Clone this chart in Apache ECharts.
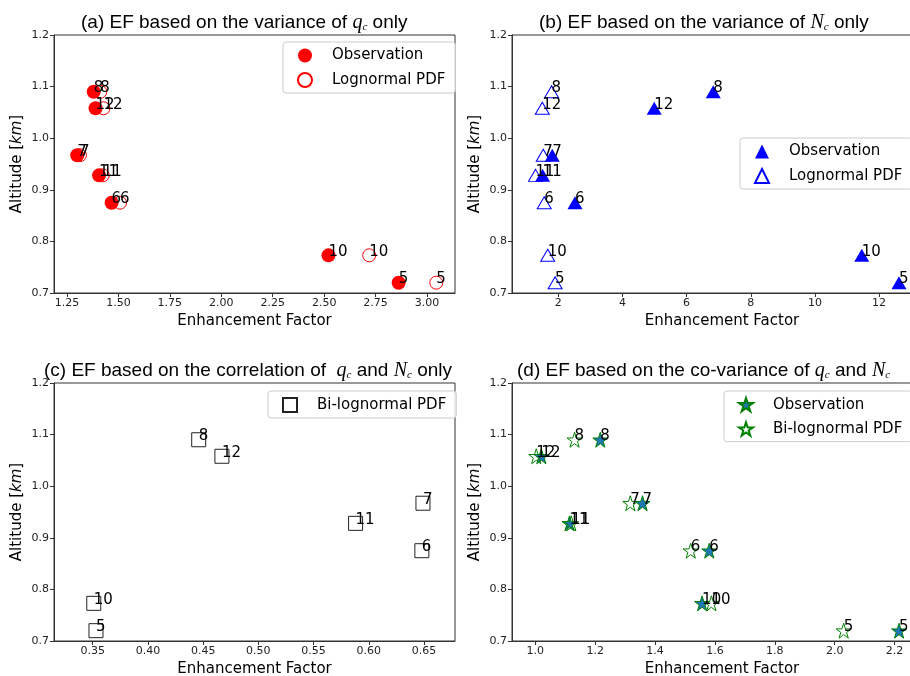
<!DOCTYPE html>
<html>
<head>
<meta charset="utf-8">
<script src="https://cdn.jsdelivr.net/npm/echarts@6/dist/echarts.min.js"></script>
<style>
html, body { margin: 0; padding: 0; background: #fff; }
#charts { width: 910px; height: 676px; }
</style>
</head>
<body>
<div id="charts"></div>
<script>
// level labels and altitude (km) of each level
var levelLabels = ['5', '6', '7', '8', '10', '11', '12'];
var altitude = [0.72, 0.875, 0.967, 1.09, 0.773, 0.928, 1.058];

// (a) variance of qc only
var efQcObs  = [2.862, 1.467, 1.300, 1.380, 2.521, 1.406, 1.389];
var efQcLogn = [3.045, 1.508, 1.313, 1.412, 2.719, 1.424, 1.427];
// (b) variance of Nc only
var efNcObs  = [12.62, 2.52, 1.81, 6.83, 11.46, 1.51, 4.99];
var efNcLogn = [1.90, 1.56, 1.53, 1.79, 1.67, 1.29, 1.50];
// (c) correlation of qc and Nc only
var efCorrBi = [0.353, 0.648, 0.649, 0.446, 0.351, 0.588, 0.467];
// (d) co-variance of qc and Nc
var efCovObs = [2.215, 1.581, 1.358, 1.217, 1.557, 1.114, 1.020];
var efCovBi  = [2.030, 1.519, 1.317, 1.131, 1.588, 1.120, 1.003];

// tick labels
var xTicksA = [1.25, 1.5, 1.75, 2.0, 2.25, 2.5, 2.75, 3.0];
var xTicksB = [2, 4, 6, 8, 10, 12];
var xTicksC = [0.35, 0.4, 0.45, 0.5, 0.55, 0.6, 0.65];
var xTicksD = [1.0, 1.2, 1.4, 1.6, 1.8, 2.0, 2.2];

var STAR = 'path://M0,-1L0.2245,-0.309L0.951,-0.309L0.363,0.118L0.588,0.809L0,0.382L-0.588,0.809L-0.363,0.118L-0.951,-0.309L-0.2245,-0.309Z';
var FONT = 'DejaVu Sans';

function pts(ef) {
    return ef.map(function (v, k) { return [v, altitude[k], levelLabels[k]]; });
}

var grids = [
    {left: 54, top: 35, width: 401, height: 258},
    {left: 512, top: 35, width: 420, height: 258},
    {left: 54, top: 383, width: 401, height: 258},
    {left: 512, top: 383, width: 420, height: 258}
];
grids.forEach(function (g) {
    g.show = true;
    g.borderColor = '#333';
    g.borderWidth = 1;
    g.outerBoundsMode = 'none';
    g.containLabel = false;
});

function xAxis(idx, min, max, ticks, digits) {
    return {
        type: 'value', gridIndex: idx, min: min, max: max,
        name: 'Enhancement Factor', nameLocation: 'middle', nameGap: 21,
        nameTextStyle: {fontFamily: FONT, fontSize: 15, color: '#000'},
        splitLine: {show: false},
        axisLine: {lineStyle: {color: '#333'}},
        axisTick: {customValues: ticks, length: 4, lineStyle: {color: '#333'}},
        axisLabel: {
            customValues: ticks, fontFamily: FONT, fontSize: 11, color: '#222', margin: 5,
            formatter: function (v) { return v.toFixed(digits); }
        }
    };
}

function yAxis(idx) {
    return {
        type: 'value', gridIndex: idx, min: 0.7, max: 1.2, interval: 0.1,
        name: '{n|Altitude [}{i|km}{n|]}', nameLocation: 'middle', nameGap: 29,
        nameTextStyle: {
            rich: {
                n: {fontFamily: FONT, fontSize: 15, color: '#000'},
                i: {fontFamily: FONT, fontSize: 15, fontStyle: 'italic', color: '#000'}
            }
        },
        splitLine: {show: false},
        axisLine: {show: true, lineStyle: {color: '#333'}},
        axisTick: {show: true, length: 4, lineStyle: {color: '#333'}},
        axisLabel: {
            fontFamily: FONT, fontSize: 11, color: '#222', margin: 5,
            formatter: function (v) { return v.toFixed(1); }
        }
    };
}

var pointLabel = {
    show: true, position: 'inside', align: 'left', verticalAlign: 'bottom',
    offset: [0, 4], fontFamily: FONT, fontSize: 15, lineHeight: 15, color: '#000',
    formatter: function (p) { return p.value[2]; }
};

function series(name, idx, ef, symbol, size, style) {
    style.opacity = 1;
    return {
        name: name, type: 'scatter', xAxisIndex: idx, yAxisIndex: idx,
        symbol: symbol, symbolSize: size, itemStyle: style,
        label: pointLabel, emphasis: {disabled: true},
        data: pts(ef)
    };
}

var titleRich = {
    t: {fontFamily: 'Liberation Sans', fontWeight: 'normal', fontSize: 19, color: '#000', lineHeight: 21},
    m: {fontFamily: 'Liberation Serif', fontWeight: 'normal', fontStyle: 'italic', fontSize: 20, color: '#000', lineHeight: 21},
    s: {fontFamily: 'Liberation Serif', fontWeight: 'normal', fontStyle: 'italic', fontSize: 11, color: '#000',
        verticalAlign: 'bottom', lineHeight: 11, padding: [12, 0, 0, 0]}
};

function title(text, left, top) {
    return {text: text, left: left, top: top, padding: 0,
        textStyle: {fontWeight: 'normal', rich: titleRich}};
}

function legend(left, top, names) {
    return {
        left: left, top: top, orient: 'vertical',
        data: names,
        itemWidth: 14, itemHeight: 14, itemGap: 9,
        padding: [6, 10, 5, 14],
        backgroundColor: 'rgba(255,255,255,0.8)',
        borderColor: '#ccc', borderWidth: 1, borderRadius: 3,
        formatter: function (n) { return n.replace(/ \(.\)$/, ''); },
        textStyle: {fontFamily: FONT, fontSize: 15, color: '#000', padding: [0, 0, 0, 15]},
        selectedMode: false
    };
}

var myChart = echarts.init(document.getElementById('charts'));
var option = {
    animation: false,
    title: [
        title('{t|(a) EF based on the variance of }{m|q}{s|c}{t| only}', 81, 12),
        title('{t|(b) EF based on the variance of }{m|N}{s|c}{t| only}', 539, 12),
        title('{t|(c) EF based on the correlation of  }{m|q}{s|c}{t| and }{m|N}{s|c}{t| only}', 44, 360),
        title('{t|(d) EF based on the co-variance of }{m|q}{s|c}{t| and }{m|N}{s|c}', 517, 360)
    ],
    legend: [
        legend(283, 42, ['Observation (a)', 'Lognormal PDF (a)']),
        legend(740, 138, ['Observation (b)', 'Lognormal PDF (b)']),
        legend(268, 391, ['Bi-lognormal PDF (c)']),
        legend(724, 391, ['Observation (d)', 'Bi-lognormal PDF (d)'])
    ],
    grid: grids,
    xAxis: [
        xAxis(0, 1.187, 3.136, xTicksA, 2),
        xAxis(1, 0.556, 13.65, xTicksB, 0),
        xAxis(2, 0.315, 0.678, xTicksC, 2),
        xAxis(3, 0.922, 2.325, xTicksD, 1)
    ],
    yAxis: [yAxis(0), yAxis(1), yAxis(2), yAxis(3)],
    series: [
        series('Observation (a)', 0, efQcObs, 'circle', 14, {color: '#ff0000'}),
        series('Lognormal PDF (a)', 0, efQcLogn, 'circle', 13, {color: 'rgba(0,0,0,0)', borderColor: '#ff0000', borderWidth: 1}),
        series('Observation (b)', 1, efNcObs, 'triangle', [15, 13], {color: '#0000ff'}),
        series('Lognormal PDF (b)', 1, efNcLogn, 'triangle', [14, 12], {color: 'rgba(0,0,0,0)', borderColor: '#0000ff', borderWidth: 1}),
        series('Bi-lognormal PDF (c)', 2, efCorrBi, 'rect', 14, {color: 'rgba(0,0,0,0)', borderColor: '#222', borderWidth: 1}),
        series('Observation (d)', 3, efCovObs, STAR, 15, {color: '#1f77b4', borderColor: '#008000', borderWidth: 1}),
        series('Bi-lognormal PDF (d)', 3, efCovBi, STAR, 15, {color: 'rgba(0,0,0,0)', borderColor: '#008000', borderWidth: 1})
    ]
};
myChart.setOption(option);
</script>
</body>
</html>
